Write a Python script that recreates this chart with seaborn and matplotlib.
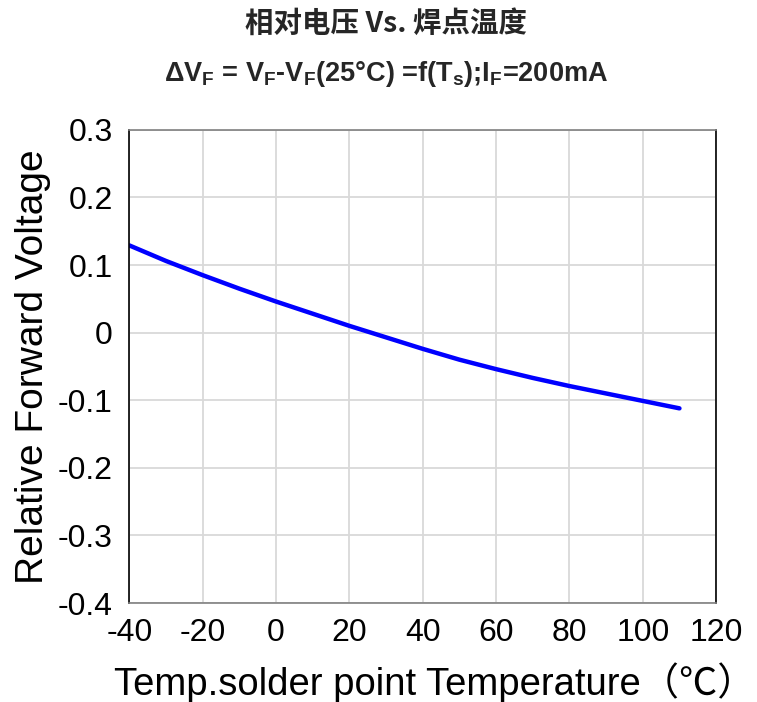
import matplotlib
matplotlib.use("Agg")
import matplotlib.pyplot as plt
import pandas as pd
import seaborn as sns

# values
temp_c = [-40, -30, -20, -10, 0, 10, 20, 30, 40, 50, 60, 70, 80, 90, 100, 110]
delta_vf = [0.129, 0.106, 0.085, 0.065, 0.046, 0.028, 0.010, -0.007,
            -0.024, -0.040, -0.054, -0.067, -0.079, -0.090, -0.101, -0.112]

x_ticks = [-40, -20, 0, 20, 40, 60, 80, 100, 120]
y_ticks = [-0.4, -0.3, -0.2, -0.1, 0, 0.1, 0.2, 0.3]
y_tick_labels = ["-0.4", "-0.3", "-0.2", "-0.1", "0", "0.1", "0.2", "0.3"]

TITLE = "相对电压 Vs. 焊点温度"
SUBTITLE = (r"ΔV$_\mathrm{F}$ = V$_\mathrm{F}$-V$_\mathrm{F}$(25°C) "
            r"=f(T$_\mathrm{s}$);I$_\mathrm{F}$=200mA")
X_LABEL = "Temp.solder point Temperature（℃）"
Y_LABEL = "Relative Forward Voltage"

sns.set_theme(style="whitegrid")
plt.rcParams["font.family"] = ["Liberation Sans", "Noto Sans CJK SC", "DejaVu Sans"]
plt.rcParams["mathtext.fontset"] = "custom"
plt.rcParams["mathtext.rm"] = "Liberation Sans:bold"
plt.rcParams["mathtext.it"] = "Liberation Sans:bold"
plt.rcParams["mathtext.bf"] = "Liberation Sans:bold"

df = pd.DataFrame({"temp": temp_c, "dvf": delta_vf})

fig = plt.figure(figsize=(7.57, 7.02), dpi=100)
ax = fig.add_axes([0.171, 0.141, 0.775, 0.674])

sns.lineplot(data=df, x="temp", y="dvf", ax=ax, color="#0000ff", linewidth=3.2)

ax.set_xlim(-40, 120)
ax.set_ylim(-0.4, 0.3)
ax.set_xticks(x_ticks)
ax.set_xticklabels([str(t) for t in x_ticks])
ax.set_yticks(y_ticks)
ax.set_yticklabels(y_tick_labels)
ax.tick_params(axis="both", length=0, labelsize=23, colors="black")
ax.tick_params(axis="x", pad=11)
ax.tick_params(axis="y", pad=12)

ax.grid(True, color="#d9d9d9", linewidth=1.3)
ax.set_facecolor("white")
for side in ["left", "right"]:
    ax.spines[side].set_color("black")
for side in ["top", "bottom"]:
    ax.spines[side].set_color("#808080")
for side in ax.spines:
    ax.spines[side].set_visible(True)
    ax.spines[side].set_linewidth(1.2)

ax.set_xlabel(X_LABEL, fontsize=27.5, color="black", va="center")
ax.set_ylabel(Y_LABEL, fontsize=28, color="black", va="center")
ax.xaxis.set_label_coords(0.52, -0.169)
ax.yaxis.set_label_coords(-0.165, 0.5)

fig.text(0.51, 0.966, TITLE, ha="center", va="center", fontsize=20.5,
         fontweight="bold", family=["Noto Sans CJK SC", "DejaVu Sans"])
fig.text(0.51, 0.895, SUBTITLE, ha="center", va="center", fontsize=19.5,
         fontweight="bold")

fig.savefig("out.png", dpi=100, facecolor="white")
